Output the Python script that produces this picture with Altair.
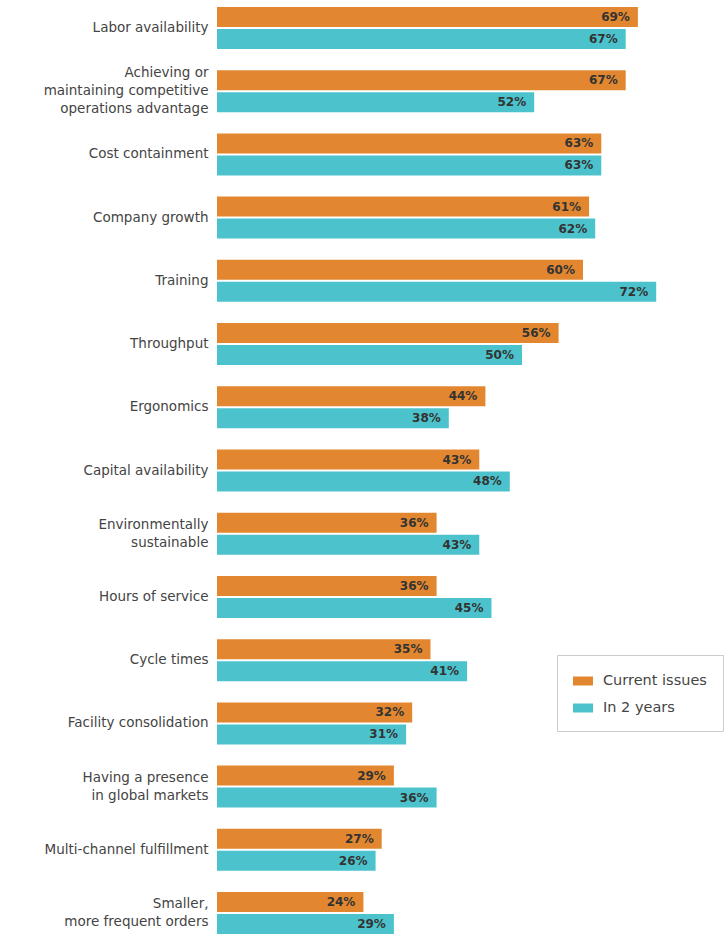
import altair as alt
import pandas as pd

# Survey categories ("|" marks a line break in the axis label)
categories = [
    "Labor availability",
    "Achieving or|maintaining competitive|operations advantage",
    "Cost containment",
    "Company growth",
    "Training",
    "Throughput",
    "Ergonomics",
    "Capital availability",
    "Environmentally|sustainable",
    "Hours of service",
    "Cycle times",
    "Facility consolidation",
    "Having a presence|in global markets",
    "Multi-channel fulfillment",
    "Smaller,|more frequent orders",
]
current_issues = [69, 67, 63, 61, 60, 56, 44, 43, 36, 36, 35, 32, 29, 27, 24]
in_two_years = [67, 52, 63, 62, 72, 50, 38, 48, 43, 45, 41, 31, 36, 26, 29]
series = ["Current issues", "In 2 years"]
series_colors = ["#E2872F", "#4CC3CC"]

rows = []
for cat, a, b in zip(categories, current_issues, in_two_years):
    rows.append({"category": cat, "series": series[0], "value": a})
    rows.append({"category": cat, "series": series[1], "value": b})
df = pd.DataFrame(rows)
df["label"] = df["value"].astype(str) + "%"

LINE_H = 18
# shift multi-line labels up so the whole block is centred on its band
label_offset = {
    "condition": [
        {"test": "length(split(datum.value, '|')) == 3", "value": -LINE_H},
        {"test": "length(split(datum.value, '|')) == 2", "value": -LINE_H / 2},
    ],
    "value": 0,
}

y_enc = alt.Y(
    "category:N",
    sort=categories,
    scale=alt.Scale(paddingInner=0.336, paddingOuter=0.11),
    axis=alt.Axis(
        title=None,
        domain=False,
        ticks=False,
        grid=False,
        labelPadding=9,
        labelFont="DejaVu Sans",
        labelFontSize=13.5,
        labelColor="#444444",
        labelLineHeight=LINE_H,
        labelOffset=label_offset,
        labelExpr="split(datum.label, '|')",
        labelLimit=220,
    ),
)
yoff_enc = alt.YOffset("series:N", sort=series,
                       scale=alt.Scale(paddingInner=0.0909, paddingOuter=0))
x_enc = alt.X("value:Q", scale=alt.Scale(domain=[0, 83.28], nice=False), axis=None)

bars = alt.Chart(df).mark_bar().encode(
    y=y_enc,
    yOffset=yoff_enc,
    x=x_enc,
    color=alt.Color(
        "series:N",
        sort=series,
        scale=alt.Scale(domain=series, range=series_colors),
        legend=alt.Legend(
            title=None,
            orient="none",
            legendX=340,
            legendY=655,
            direction="vertical",
            symbolType="M-1,-0.45L1,-0.45L1,0.45L-1,0.45Z",
            symbolSize=400,
            symbolStrokeWidth=0,
            labelFont="DejaVu Sans",
            labelFontSize=14.5,
            labelColor="#444444",
            labelOffset=10,
            rowPadding=10,
            padding=16,
            strokeColor="#cccccc",
            fillColor="white",
        ),
    ),
)

labels = alt.Chart(df).mark_text(
    align="right",
    baseline="middle",
    dx=-8,
    font="DejaVu Sans",
    fontSize=12,
    fontWeight="bold",
    color="#333333",
).encode(
    y=y_enc,
    yOffset=yoff_enc,
    x=x_enc,
    text="label:N",
)

chart = (
    alt.layer(bars, labels)
    .properties(width=508, height=941, autosize=alt.AutoSizeParams(type="none"),
                padding={"left": 217, "top": 0, "right": 0, "bottom": 0},
                background="white")
    .configure_view(strokeWidth=0)
)

chart.save("out.html", embed_options={"renderer": "svg", "actions": False})
